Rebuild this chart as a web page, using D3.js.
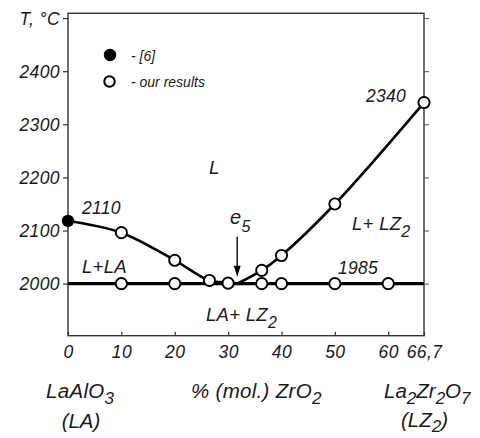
<!DOCTYPE html>
<html>
<head>
<meta charset="utf-8">
<script src="https://cdn.jsdelivr.net/npm/d3@7"></script>
<style>
  html, body { margin: 0; padding: 0; background: #fff; }
  svg { display: block; }
  text { font-family: "Liberation Sans", Arial, Helvetica, sans-serif; font-style: italic; fill: #1a1a1a; }
</style>
</head>
<body>
<svg id="chart" width="480" height="438"></svg>
<script>
// ---- data ----
const xTicks = [0, 10, 20, 30, 40, 50, 60, 66.7];
const xTickLabels = ["0", "10", "20", "30", "40", "50", "60", "66,7"];
const yTicks = [2000, 2100, 2200, 2300, 2400, 2500];
const yTickLabels = ["2000", "2100", "2200", "2300", "2400", "T, °C"];

const eutecticX = 31.7;           // e5
const eutecticT = 2000;
const solidusX = [0, 66.7];

const liqLeftX = [0, 10, 20, 26.5, 30, 31.7];
const liqLeftT = [2118, 2096, 2044, 2006, 2002, 2000];
const liqRightX = [31.7, 36.3, 40, 50, 66.7];
const liqRightT = [2000, 2025, 2053, 2150, 2341];

const refX = [0];                 // [6]
const refT = [2118];
const ourX = [10, 20, 26.5, 36.3, 40, 50, 66.7, 10, 20, 30, 36.3, 40, 50, 60];
const ourT = [2096, 2044, 2006, 2025, 2053, 2150, 2341, 2000, 2000, 2001, 2000, 2000, 2000, 2000];

// ---- layout ----
const svg = d3.select("#chart");
const L = 68, R = 424, T = 13.3, B = 335.7;
const x = d3.scaleLinear().domain([0, 66.7]).range([L, R]);
const y = d3.scaleLinear().domain([1902, 2509]).range([B, T]);

// frame
svg.append("rect").attr("x", L).attr("y", T).attr("width", R - L).attr("height", B - T)
  .attr("fill", "none").attr("stroke", "#333").attr("stroke-width", 1.4);

// axes
const yAxisL = d3.axisLeft(y).tickValues(yTicks).tickSize(5).tickPadding(3)
  .tickFormat((d, i) => yTickLabels[i]);
const gL = svg.append("g").attr("transform", `translate(${L},0)`).call(yAxisL);
gL.select(".domain").remove();
gL.selectAll("line").attr("stroke", "#333").attr("stroke-width", 1.2);
gL.selectAll("text").attr("font-size", 17.5).attr("font-family", null).attr("fill", "#1a1a1a")
  .attr("dy", "0.36em").attr("letter-spacing", 0.4);

const yAxisR = d3.axisRight(y).tickValues(yTicks).tickSize(5).tickFormat("");
const gR = svg.append("g").attr("transform", `translate(${R},0)`).call(yAxisR);
gR.select(".domain").remove();
gR.selectAll("line").attr("stroke", "#555").attr("stroke-width", 1);

const xAxis = d3.axisBottom(x).tickValues(xTicks).tickSize(-4).tickPadding(10)
  .tickFormat((d, i) => xTickLabels[i]);
const gX = svg.append("g").attr("transform", `translate(0,${B})`).call(xAxis);
gX.select(".domain").remove();
gX.selectAll("line").attr("stroke", "#333").attr("stroke-width", 1.2);
gX.selectAll("text").attr("font-size", 17.5).attr("font-family", null).attr("fill", "#1a1a1a")
  .attr("letter-spacing", 0.4);

// solidus (eutectic) line
svg.append("line")
  .attr("x1", x(solidusX[0])).attr("x2", x(solidusX[1]))
  .attr("y1", y(eutecticT)).attr("y2", y(eutecticT))
  .attr("stroke", "#000").attr("stroke-width", 3.2);

// liquidus curves
const line = d3.line().x(d => x(d[0])).y(d => y(d[1])).curve(d3.curveCatmullRom.alpha(0.5));
svg.append("path").datum(liqLeftX.map((v, i) => [v, liqLeftT[i]]))
  .attr("d", line).attr("fill", "none").attr("stroke", "#000").attr("stroke-width", 2.6);
svg.append("path").datum(liqRightX.map((v, i) => [v, liqRightT[i]]))
  .attr("d", line).attr("fill", "none").attr("stroke", "#000").attr("stroke-width", 2.6);

// points
svg.selectAll("circle.our").data(ourX.map((v, i) => [v, ourT[i]])).enter()
  .append("circle").attr("class", "our")
  .attr("cx", d => x(d[0])).attr("cy", d => y(d[1])).attr("r", 5.6)
  .attr("fill", "#fff").attr("stroke", "#000").attr("stroke-width", 1.9);
svg.selectAll("circle.ref").data(refX.map((v, i) => [v, refT[i]])).enter()
  .append("circle").attr("class", "ref")
  .attr("cx", d => x(d[0])).attr("cy", d => y(d[1])).attr("r", 6.2)
  .attr("fill", "#000");

// eutectic arrow
const ax = x(eutecticX), tipY = y(eutecticT) - 7;
svg.append("line").attr("x1", ax).attr("x2", ax).attr("y1", tipY - 40).attr("y2", tipY - 8)
  .attr("stroke", "#000").attr("stroke-width", 1.4);
svg.append("path")
  .attr("d", `M${ax - 3.5},${tipY - 11} L${ax},${tipY} L${ax + 3.5},${tipY - 11} Z`)
  .attr("fill", "#000");

// legend
svg.append("circle").attr("cx", 110).attr("cy", 55).attr("r", 6.2).attr("fill", "#000");
svg.append("circle").attr("cx", 109.5).attr("cy", 81.5).attr("r", 5.2)
  .attr("fill", "#fff").attr("stroke", "#000").attr("stroke-width", 2);
svg.append("text").attr("x", 131).attr("y", 61).attr("font-size", 14).text("-  [6]");
svg.append("text").attr("x", 131).attr("y", 87).attr("font-size", 14).text("- our results");

// region labels
function label(tx, ty, main, sub, size, subSize, subDy) {
  const t = svg.append("text").attr("x", tx).attr("y", ty).attr("font-size", size)
    .attr("letter-spacing", 0.3);
  t.append("tspan").text(main);
  if (sub) t.append("tspan").attr("font-size", subSize).attr("dy", subDy).text(sub);
  return t;
}
label(209, 174, "L", null, 19);
label(82, 214, "2110", null, 17.5);
label(366, 102, "2340", null, 17.5);
label(82, 273, "L+LA", null, 18.5);
label(338, 274, "1985", null, 17.5);
label(352, 230, "L+ LZ", "2", 18.5, 16, 7);
label(206, 321, "LA+ LZ", "2", 18.5, 16, 7);
label(230, 224, "e", "5", 20, 16, 8);

// composition labels
label(46, 398, "LaAlO", "3", 20.5, 17, 6);
svg.append("text").attr("x", 81).attr("y", 428).attr("font-size", 20.5).attr("text-anchor", "middle").text("(LA)");
label(191, 398, "% (mol.) ZrO", "2", 20.5, 17, 6);
const lz = svg.append("text").attr("x", 384).attr("y", 398).attr("font-size", 20.5);
lz.append("tspan").text("La");
lz.append("tspan").attr("font-size", 17).attr("dy", 6).text("2");
lz.append("tspan").attr("dy", -6).text("Zr");
lz.append("tspan").attr("font-size", 17).attr("dy", 6).text("2");
lz.append("tspan").attr("dy", -6).text("O");
lz.append("tspan").attr("font-size", 17).attr("dy", 6).text("7");
const lz2 = svg.append("text").attr("x", 401).attr("y", 427).attr("font-size", 20.5);
lz2.append("tspan").text("(LZ");
lz2.append("tspan").attr("font-size", 17).attr("dy", 5).text("2");
lz2.append("tspan").attr("dy", -5).text(")");
</script>
</body>
</html>
